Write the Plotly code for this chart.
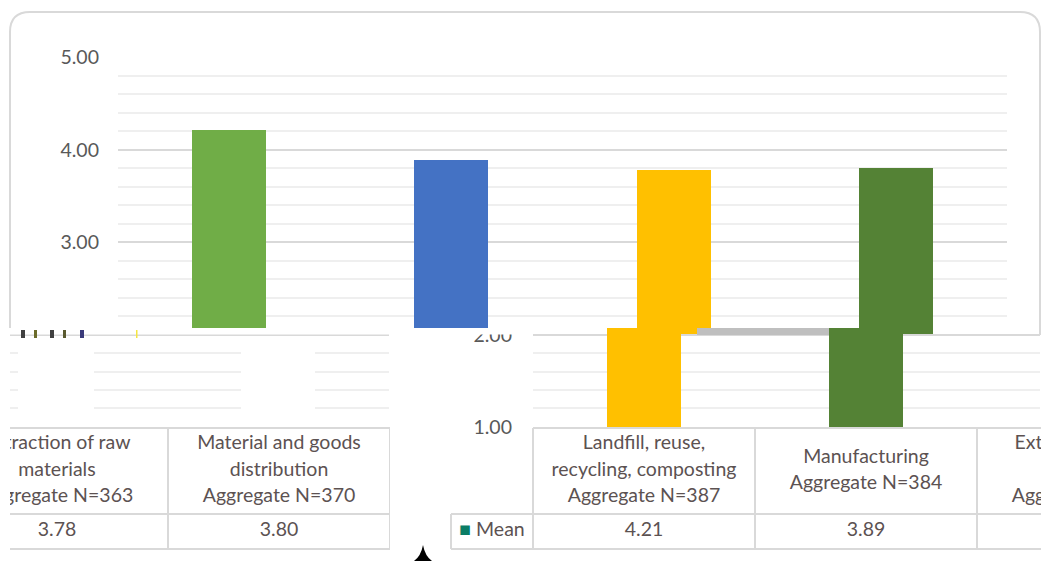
import plotly.graph_objects as go

W, H = 1046, 561

# data
category_lines = [
    ["Landfill, reuse,", "recycling, composting"],
    ["Manufacturing"],
    ["Extraction of raw", "materials"],
    ["Material and goods", "distribution"],
]
sample_n = [387, 384, 363, 370]
mean_values = [4.21, 3.89, 3.78, 3.80]
bar_colors = ["#70AD47", "#4472C4", "#FFC000", "#548235"]
series_name = "Mean"
series_key_color = "#0b7d66"

FONT = "Lato"
TEXT_GREY = "#595959"
TABLE_TEXT = "#5c5252"
GRID = "#d9d9d9"
MINOR = "#efefef"


def fx(px):
    return px / W


def fy(py):
    return 1 - py / H


idx = list(range(len(mean_values)))
COL_W = 222.0  # pixels per category


def v_right(px):
    # category units for the lower right table (first column starts at 533px)
    return (px - 533) / COL_W - 0.5


def v_left(px):
    # the lower left table is the same table shifted left
    return (px + 498) / COL_W - 0.5


fig = go.Figure()

# upper chart
fig.add_trace(go.Bar(x=idx, y=mean_values, marker=dict(color=bar_colors, line=dict(width=0)),
                     width=0.333, xaxis="x", yaxis="y", showlegend=False, hoverinfo="skip"))
# lower right fragment of the chart
fig.add_trace(go.Bar(x=idx, y=mean_values, marker=dict(color=bar_colors, line=dict(width=0)),
                     width=0.333, xaxis="x2", yaxis="y2", showlegend=False, hoverinfo="skip"))
# lower left fragment (grid only)
fig.add_trace(go.Scatter(x=[None], y=[None], xaxis="x3", yaxis="y3", showlegend=False))

# data table borders
mean_left = -0.5 - 82 / COL_W
bx, by = [], []
for yy, x0 in [(428, -0.5), (514, mean_left), (549, mean_left)]:
    bx += [x0, len(idx) - 0.5, None]
    by += [yy, yy, None]
for i in range(len(idx) + 1):
    bx += [i - 0.5, i - 0.5, None]
    by += [428, 549, None]
bx += [mean_left, mean_left, None]
by += [514, 549, None]

# header and value texts
tx, ty, tt = [], [], []
for i, lines in enumerate(category_lines):
    full = lines + [f"Aggregate N={sample_n[i]}"]
    for j, s in enumerate(full):
        tx.append(i)
        ty.append(471 + (j - (len(full) - 1) / 2) * 26.5)
        tt.append(s)
    tx.append(i)
    ty.append(531)
    tt.append(f"{mean_values[i]:.2f}")
tx.append(mean_left + 41 / COL_W)
ty.append(531)
tt.append(f"<span style='color:{series_key_color}'>■</span> {series_name}")

for xa, ya in [("x4", "y4"), ("x5", "y5")]:
    fig.add_trace(go.Scatter(x=bx, y=by, mode="lines", line=dict(color=GRID, width=2),
                             xaxis=xa, yaxis=ya, showlegend=False, hoverinfo="skip", cliponaxis=True))
    fig.add_trace(go.Scatter(x=tx, y=ty, mode="text", text=tt, textposition="middle center",
                             textfont=dict(family=FONT, size=19.5, color=TABLE_TEXT),
                             xaxis=xa, yaxis=ya, showlegend=False, hoverinfo="skip", cliponaxis=True))

yax = dict(dtick=1, tick0=0, tickformat=".2f", showgrid=True, gridcolor=GRID, gridwidth=2,
           zeroline=False, showline=False, ticks="", automargin=False,
           tickfont=dict(family=FONT, size=19.5, color=TEXT_GREY),
           minor=dict(dtick=0.2, showgrid=True, gridcolor=MINOR, gridwidth=2))
hidden = dict(visible=False, showgrid=False, zeroline=False, automargin=False)

fig.update_layout(
    width=W, height=H, margin=dict(l=0, r=0, t=0, b=0, autoexpand=False),
    paper_bgcolor="white", plot_bgcolor="rgba(0,0,0,0)",
    font=dict(family=FONT, color=TEXT_GREY),
    showlegend=False, bargap=0,
    xaxis=dict(hidden, domain=[fx(118), fx(1007)], range=[-0.5, 3.5], anchor="y"),
    yaxis=dict(yax, domain=[fy(334), fy(57)], range=[5 - 277 / 92.5, 5.003], anchor="x",
               ticklabelstandoff=18),
    xaxis2=dict(hidden, domain=[fx(533), fx(1040)], range=[1.5, 1.5 + 507 / COL_W], anchor="y2"),
    yaxis2=dict(yax, domain=[fy(427), fy(328)], range=[0.997, 1 + 99 / 92], anchor="x2",
                ticklabelstandoff=20),
    xaxis3=dict(hidden, domain=[fx(10), fx(389)], range=[0, 1], anchor="y3"),
    yaxis3=dict(yax, domain=[fy(427), fy(328)], range=[0.997, 1 + 99 / 92], anchor="x3",
                showticklabels=False),
    xaxis4=dict(hidden, domain=[fx(440), fx(1041)], range=[v_right(440), v_right(1041)], anchor="y4"),
    yaxis4=dict(hidden, domain=[fy(552), fy(425)], range=[552, 425], anchor="x4"),
    xaxis5=dict(hidden, domain=[fx(10), fx(390)], range=[v_left(10), v_left(390)], anchor="y5"),
    yaxis5=dict(hidden, domain=[fy(552), fy(425)], range=[552, 425], anchor="x5"),
)

shapes = []
# chart frame (rounded corners), only the upper part survives
r = 20
path = (f"M {fx(10)} {fy(330)} L {fx(10)} {fy(12 + r)} "
        f"Q {fx(10)} {fy(12)} {fx(10 + r)} {fy(12)} L {fx(1040 - r)} {fy(12)} "
        f"Q {fx(1040)} {fy(12)} {fx(1040)} {fy(12 + r)} L {fx(1040)} {fy(335)}")
shapes.append(dict(type="path", path=path, xref="paper", yref="paper",
                   line=dict(color="#d9d9d9", width=2), layer="below"))
# white bands where the picture was cut
for x0, x1, y0, y1 in [(0, 533, 328, 334.5), (18, 94, 338, 420), (241, 315, 338, 420)]:
    shapes.append(dict(type="rect", xref="paper", yref="paper", x0=fx(x0), x1=fx(x1),
                       y0=fy(y1), y1=fy(y0), fillcolor="white", line=dict(width=0), layer="above"))
# grey sliver between the pieces
shapes.append(dict(type="rect", xref="paper", yref="paper", x0=fx(697), x1=fx(829),
                   y0=fy(335), y1=fy(328), fillcolor="#bfbfbf", line=dict(width=0), layer="above"))
# small broken marks at the left
for x0, w, c in [(21, 4, "#404040"), (34, 3, "#6b6b2a"), (50, 4, "#404040"), (63, 3, "#5a5a30"),
                 (80, 4, "#3a3a7a"), (136, 1.5, "#f5e642")]:
    shapes.append(dict(type="rect", xref="paper", yref="paper", x0=fx(x0), x1=fx(x0 + w),
                       y0=fy(338), y1=fy(330), fillcolor=c, line=dict(width=0), layer="above"))
# black spike at the bottom
shapes.append(dict(type="path", xref="paper", yref="paper", fillcolor="black", line=dict(width=0),
                   path=(f"M {fx(423)} {fy(545)} Q {fx(425)} {fy(556)} {fx(432)} {fy(561)} "
                         f"L {fx(414)} {fy(561)} Q {fx(421)} {fy(556)} {fx(423)} {fy(545)} Z"),
                   layer="above"))
fig.update_layout(shapes=shapes)

fig.write_html("out.html", config={"displayModeBar": False},
               post_script="document.body.style.margin='0';document.body.style.overflow='hidden';")
